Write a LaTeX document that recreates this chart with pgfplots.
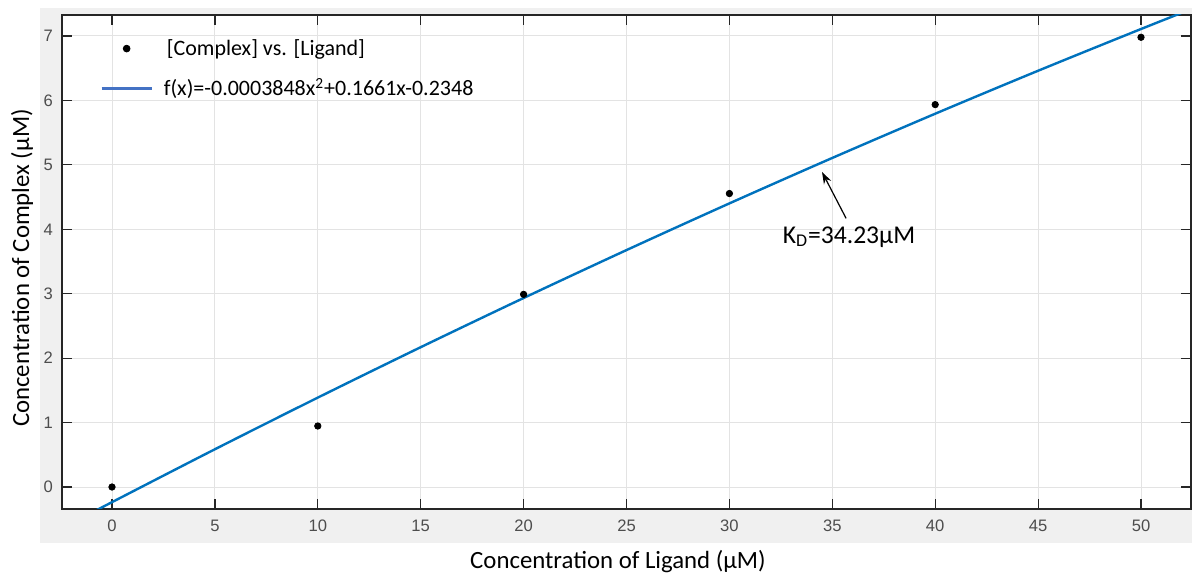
\documentclass[border=0pt]{standalone}
\usepackage{pgfplots}
\pgfplotsset{compat=1.18}
\usepackage{fontspec}
\setmainfont{Carlito}
\newfontfamily\arialf{Liberation Sans}
\usetikzlibrary{arrows.meta}
\definecolor{panel}{HTML}{F0F0F0}
\definecolor{mblue}{HTML}{0072BD}
\definecolor{legblue}{HTML}{4472C4}
\definecolor{axgray}{HTML}{262626}
\definecolor{tickgray}{HTML}{4D4D4D}
\definecolor{gridgray}{HTML}{E3E3E3}
\begin{document}
\begin{tikzpicture}
\path[use as bounding box] (0,0) rectangle (596pt,288pt);
\fill[white] (0,0) rectangle (596pt,288pt);
\fill[panel] (20pt,16.5pt) rectangle (596pt,284pt);
\begin{axis}[
  at={(31pt,33.5pt)}, anchor=south west,
  scale only axis, width=564.5pt, height=247pt,
  xmin=-2.43, xmax=52.43, ymin=-0.341, ymax=7.326,
  axis background/.style={fill=white},
  axis line style={color=axgray, line width=0.6pt},
  xtick={0,5,...,50}, ytick={0,1,...,7},
  tick align=inside, tick pos=both,
  major tick length=5pt,
  every tick/.style={color=axgray, line width=0.6pt},
  grid=major, major grid style={color=gridgray, line width=0.5pt},
  /pgf/number format/assume math mode=true,
  tick label style={font=\arialf\fontsize{8.3}{10}\selectfont, text=tickgray},
  xticklabel style={yshift=-2pt},
  yticklabel style={xshift=-1pt},
  legend style={draw=none, fill=none, at={(axis description cs:0.0337,0.96)}, anchor=north west,
    font=\fontsize{11}{13}\selectfont, row sep=6pt, inner sep=0pt},
  legend cell align=left,
  /tikz/every odd column/.append style={column sep=3.5pt},
]
\addlegendimage{legend image code/.code={\fill[black] (12.5pt,0pt) circle (1.7pt);}}
\addlegendentry{\hspace{1.5pt}[Complex] vs. [Ligand]}
\addlegendimage{legend image code/.code={\draw[line width=1.2pt, color=legblue] (0pt,0pt) -- (25pt,0pt);}}
\addlegendentry{f(x)=-0.0003848x\textsuperscript{2}+0.1661x-0.2348}

\addplot[forget plot, color=mblue, line width=1.2pt, smooth] coordinates {
(-1.5,-0.4848) (0,-0.2348) (5,0.5861) (10,1.3877) (15,2.1701) (20,2.9333)
(25,3.6772) (30,4.4019) (35,5.1073) (40,5.7935) (45,6.4605) (50,7.1082) (53,7.4876)};

\addplot[forget plot, only marks, mark=*, mark size=1.6pt, color=black] coordinates {
(0,0) (10,0.947) (20,2.99) (30,4.555) (40,5.935) (50,6.98)};

\draw[black, line width=0.6pt, -{Stealth[length=6pt, width=4pt]}] (axis cs:35.67,4.17) -- (axis cs:34.5,4.89);
\node[font=\fontsize{12.8}{15}\selectfont] at (axis cs:35.81,3.88) {K\textsubscript{D}=34.23μM};
\end{axis}
\node[font=\fontsize{12.4}{15}\selectfont] at (309pt,7pt) {Concentration of Ligand (μM)};
\node[font=\fontsize{12.4}{15}\selectfont, rotate=90] at (11pt,154pt) {Concentration of Complex (μM)};
\end{tikzpicture}
\end{document}
